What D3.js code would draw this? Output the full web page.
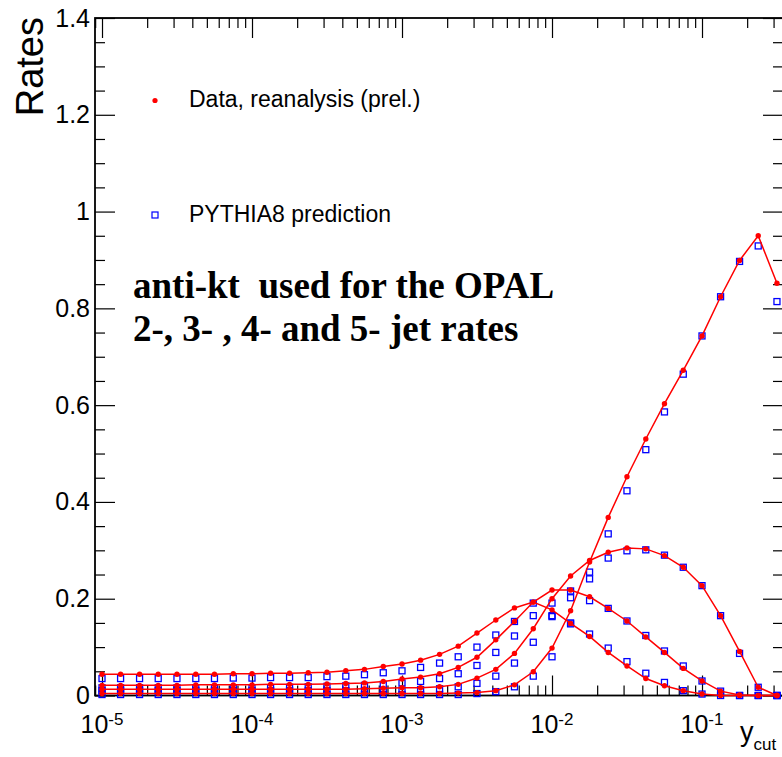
<!DOCTYPE html>
<html>
<head>
<meta charset="utf-8">
<script src="https://cdn.jsdelivr.net/npm/d3@7/dist/d3.min.js"></script>
<style>
  body { margin: 0; background: #fff; }
  svg { display: block; }
  text { font-family: "Liberation Sans", Arial, Helvetica, sans-serif; }
</style>
</head>
<body>
<div id="svg-area"></div>
<script>
// ycut bin centres, 8 per decade
var ycut = [
  1.00e-5, 1.33e-5, 1.78e-5, 2.37e-5, 3.16e-5, 4.22e-5, 5.62e-5, 7.50e-5,
  1.00e-4, 1.33e-4, 1.78e-4, 2.37e-4, 3.16e-4, 4.22e-4, 5.62e-4, 7.50e-4,
  1.00e-3, 1.33e-3, 1.78e-3, 2.37e-3, 3.16e-3, 4.22e-3, 5.62e-3, 7.50e-3,
  1.00e-2, 1.33e-2, 1.78e-2, 2.37e-2, 3.16e-2, 4.22e-2, 5.62e-2, 7.50e-2,
  1.00e-1, 1.33e-1, 1.78e-1, 2.37e-1, 3.16e-1
];

// data (red dots)
var rate2Data = [0.004, 0.004, 0.004, 0.004, 0.004, 0.004, 0.004, 0.004, 0.004, 0.004, 0.004, 0.004,
  0.004, 0.004, 0.004, 0.004, 0.004, 0.004, 0.004, 0.005, 0.006, 0.010, 0.022, 0.049, 0.098, 0.175,
  0.276, 0.368, 0.452, 0.530, 0.603, 0.672, 0.743, 0.824, 0.899, 0.950, 0.852];
var rate3Data = [0.013, 0.013, 0.013, 0.013, 0.013, 0.013, 0.013, 0.013, 0.013, 0.013, 0.013, 0.013,
  0.013, 0.013, 0.014, 0.015, 0.016, 0.016, 0.018, 0.023, 0.036, 0.054, 0.087, 0.138, 0.200, 0.247,
  0.279, 0.296, 0.305, 0.303, 0.289, 0.265, 0.227, 0.165, 0.091, 0.017, 0.000];
var rate4Data = [0.021, 0.021, 0.021, 0.021, 0.021, 0.022, 0.022, 0.022, 0.022, 0.023, 0.023, 0.023,
  0.024, 0.025, 0.026, 0.029, 0.034, 0.038, 0.045, 0.058, 0.079, 0.115, 0.153, 0.193, 0.218, 0.218,
  0.204, 0.180, 0.154, 0.121, 0.089, 0.056, 0.030, 0.009, 0.001, 0.000, 0.000];
var rate5Data = [0.044, 0.044, 0.044, 0.044, 0.044, 0.044, 0.044, 0.045, 0.045, 0.046, 0.046, 0.047,
  0.048, 0.051, 0.054, 0.060, 0.065, 0.073, 0.085, 0.102, 0.129, 0.156, 0.181, 0.193, 0.177, 0.149,
  0.122, 0.089, 0.061, 0.035, 0.020, 0.010, 0.003, 0.000, 0.000, 0.000, 0.000];

// PYTHIA8 (blue squares)
var rate2Pythia = [0.002, 0.002, 0.002, 0.002, 0.002, 0.002, 0.002, 0.002, 0.002, 0.002, 0.002, 0.002,
  0.002, 0.002, 0.002, 0.002, 0.002, 0.002, 0.002, 0.002, 0.004, 0.008, 0.018, 0.040, 0.080, 0.150,
  0.241, 0.334, 0.423, 0.508, 0.586, 0.664, 0.743, 0.824, 0.897, 0.929, 0.814];
var rate3Pythia = [0.010, 0.010, 0.010, 0.010, 0.010, 0.010, 0.010, 0.010, 0.010, 0.010, 0.010, 0.010,
  0.010, 0.010, 0.010, 0.010, 0.011, 0.012, 0.014, 0.018, 0.025, 0.040, 0.067, 0.110, 0.165, 0.202,
  0.255, 0.284, 0.299, 0.301, 0.290, 0.265, 0.227, 0.165, 0.087, 0.017, 0.000];
var rate4Pythia = [0.016, 0.016, 0.016, 0.016, 0.016, 0.016, 0.016, 0.016, 0.016, 0.016, 0.017, 0.018,
  0.019, 0.020, 0.021, 0.023, 0.026, 0.029, 0.035, 0.045, 0.062, 0.089, 0.123, 0.165, 0.191, 0.216,
  0.196, 0.180, 0.154, 0.124, 0.092, 0.061, 0.030, 0.009, 0.000, 0.000, 0.000];
var rate5Pythia = [0.035, 0.035, 0.035, 0.035, 0.035, 0.035, 0.035, 0.036, 0.036, 0.037, 0.037, 0.037,
  0.039, 0.040, 0.043, 0.047, 0.051, 0.058, 0.067, 0.080, 0.100, 0.125, 0.153, 0.191, 0.163, 0.148,
  0.127, 0.098, 0.070, 0.046, 0.027, 0.010, 0.003, 0.000, 0.000, 0.000, 0.000];

// axis ticks
var yMajorTicks = [0, 0.2, 0.4, 0.6, 0.8, 1, 1.2, 1.4];
var xDecades = [1e-5, 1e-4, 1e-3, 1e-2, 1e-1];
var xDecadeLabels = ["-5", "-4", "-3", "-2", "-1"];

var dataSeries = [rate2Data, rate3Data, rate4Data, rate5Data];
var pythiaSeries = [rate2Pythia, rate3Pythia, rate4Pythia, rate5Pythia];

var svgWidth = 782;
var svgHeight = 757;

// plot frame (the right edge sits just outside the picture)
var frame = { left: 95, right: 783, top: 18, bottom: 695.5 };

var svg = d3.select("#svg-area")
  .append("svg")
  .attr("width", svgWidth)
  .attr("height", svgHeight);

var xScale = d3.scaleLog()
  .domain([8.98e-6, 0.3467])
  .range([frame.left, frame.right]);

var yScale = d3.scaleLinear()
  .domain([0, 1.4])
  .range([frame.bottom, frame.top]);

var xMinor = xScale.ticks().filter(function(d) {
  var m = d / Math.pow(10, Math.floor(Math.log10(d) + 1e-9));
  return Math.round(m) !== 1;
});
var yMinor = d3.range(0, 1.4001, 0.05).filter(function(d) {
  return Math.abs(d / 0.2 - Math.round(d / 0.2)) > 1e-6;
});

function tickGroup(axis, transform) {
  var g = svg.append("g")
    .attr("transform", transform)
    .call(axis);
  g.select(".domain").remove();
  g.selectAll(".tick line").attr("stroke", "#000").attr("stroke-width", 1.2);
  return g;
}

// bottom and top ticks
tickGroup(d3.axisBottom(xScale).tickValues(xMinor).tickSize(-10).tickFormat(""), `translate(0,${frame.bottom})`);
tickGroup(d3.axisBottom(xScale).tickValues(xDecades).tickSize(-20).tickFormat(""), `translate(0,${frame.bottom})`);
tickGroup(d3.axisTop(xScale).tickValues(xMinor).tickSize(-10).tickFormat(""), `translate(0,${frame.top})`);
tickGroup(d3.axisTop(xScale).tickValues(xDecades).tickSize(-20).tickFormat(""), `translate(0,${frame.top})`);

// left and right ticks
tickGroup(d3.axisLeft(yScale).tickValues(yMinor).tickSize(-10).tickFormat(""), `translate(${frame.left},0)`);
var leftAxis = tickGroup(d3.axisLeft(yScale).tickValues(yMajorTicks).tickSize(-20).tickPadding(5)
  .tickFormat(d3.format("~g")), `translate(${frame.left},0)`);
leftAxis.selectAll("text")
  .attr("fill", "#000")
  .style("font-size", "25px")
  .style("font-family", "'Liberation Sans', Arial, sans-serif");
tickGroup(d3.axisRight(yScale).tickValues(yMinor).tickSize(-10).tickFormat(""), `translate(${frame.right},0)`);
tickGroup(d3.axisRight(yScale).tickValues(yMajorTicks).tickSize(-20).tickFormat(""), `translate(${frame.right},0)`);

// frame
svg.append("rect")
  .attr("x", frame.left)
  .attr("y", frame.top)
  .attr("width", frame.right - frame.left)
  .attr("height", frame.bottom - frame.top)
  .attr("fill", "none")
  .attr("stroke", "#000")
  .attr("stroke-width", 1.8);

// x labels 10^n
xDecades.forEach(function(d, i) {
  var t = svg.append("text")
    .attr("x", xScale(d))
    .attr("y", 733)
    .attr("text-anchor", "middle")
    .style("font-size", "25px");
  t.append("tspan").text("10");
  t.append("tspan").attr("dy", -8).style("font-size", "17px").text(xDecadeLabels[i]);
});

// axis titles
var xTitle = svg.append("text")
  .attr("x", 740)
  .attr("y", 741)
  .style("font-size", "27px");
xTitle.append("tspan").text("y");
xTitle.append("tspan").attr("dy", 9).style("font-size", "17px").text("cut");

svg.append("text")
  .attr("transform", "translate(43,17) rotate(-90)")
  .attr("text-anchor", "end")
  .style("font-size", "38px")
  .text("Rates");

// PYTHIA8 squares
var sq = 6;
pythiaSeries.forEach(function(series) {
  svg.append("g").selectAll("rect")
    .data(series)
    .enter()
    .append("rect")
    .attr("x", (d, i) => xScale(ycut[i]) - sq / 2)
    .attr("y", d => yScale(d) - sq / 2)
    .attr("width", sq)
    .attr("height", sq)
    .attr("fill", "none")
    .attr("stroke", "#0000ff")
    .attr("stroke-width", 1.3);
});

// data lines and dots
var line = d3.line()
  .x((d, i) => xScale(ycut[i]))
  .y(d => yScale(d));

dataSeries.forEach(function(series) {
  svg.append("path")
    .datum(series)
    .attr("d", line)
    .attr("fill", "none")
    .attr("stroke", "#ff0000")
    .attr("stroke-width", 1.5);
  svg.append("g").selectAll("circle")
    .data(series)
    .enter()
    .append("circle")
    .attr("cx", (d, i) => xScale(ycut[i]))
    .attr("cy", d => yScale(d))
    .attr("r", 2.7)
    .attr("fill", "#ff0000");
});

// legend
svg.append("circle").attr("cx", 155).attr("cy", 100.5).attr("r", 2.6).attr("fill", "#ff0000");
svg.append("text").attr("x", 189).attr("y", 107).style("font-size", "23px").text("Data, reanalysis (prel.)");
svg.append("rect").attr("x", 152).attr("y", 212).attr("width", 6).attr("height", 6)
  .attr("fill", "none").attr("stroke", "#0000ff").attr("stroke-width", 1.2);
svg.append("text").attr("x", 189).attr("y", 222).style("font-size", "23px").text("PYTHIA8 prediction");

// annotation
svg.append("text")
  .attr("x", 133).attr("y", 298)
  .style("font-family", "'Liberation Serif', 'Times New Roman', serif")
  .style("font-weight", "bold")
  .style("font-size", "37px")
  .attr("xml:space", "preserve")
  .text("anti-kt  used for the OPAL");
svg.append("text")
  .attr("x", 133).attr("y", 341)
  .style("font-family", "'Liberation Serif', 'Times New Roman', serif")
  .style("font-weight", "bold")
  .style("font-size", "37px")
  .attr("xml:space", "preserve")
  .text("2-, 3- , 4- and 5- jet rates");
</script>
</body>
</html>
